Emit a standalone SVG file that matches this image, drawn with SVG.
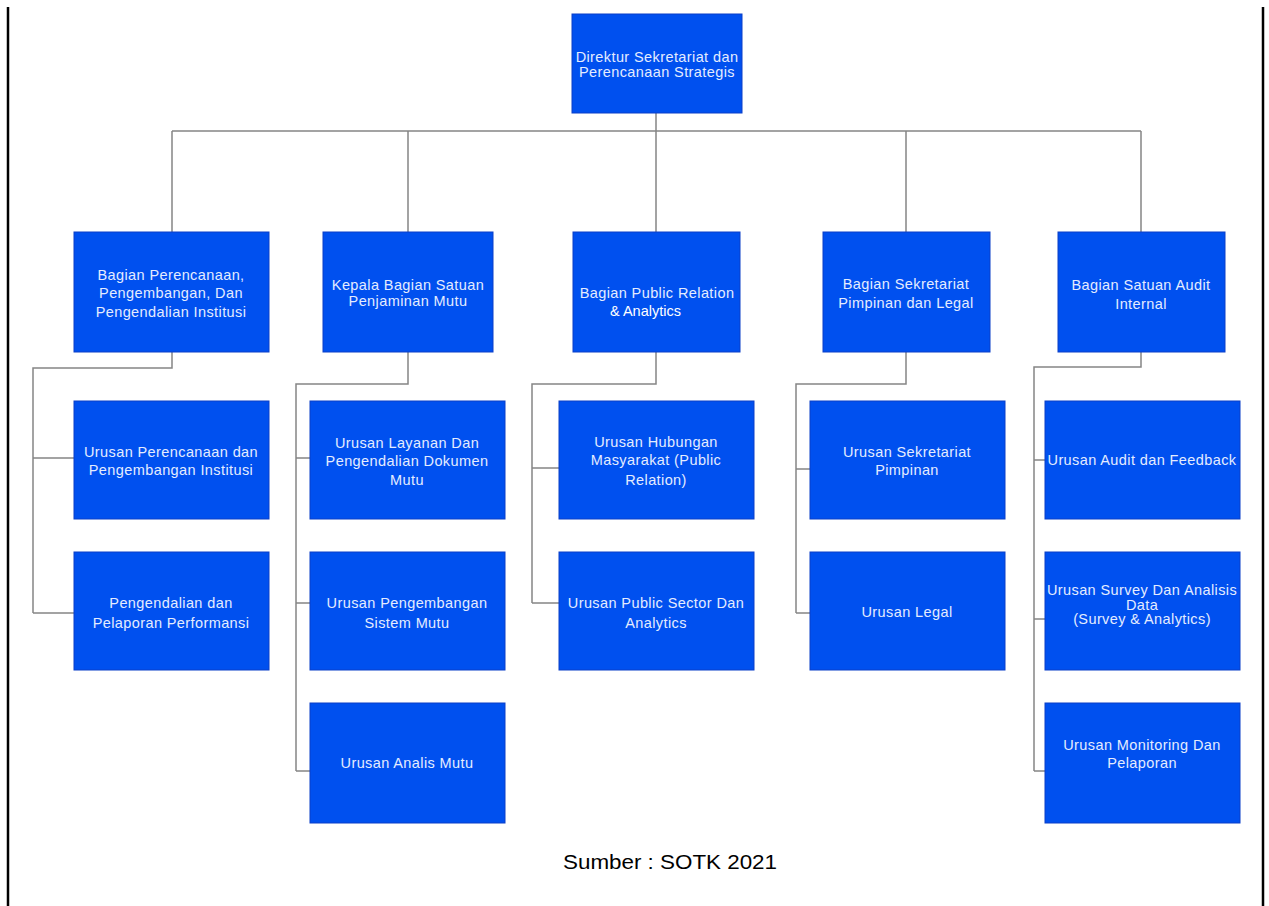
<svg xmlns="http://www.w3.org/2000/svg" width="1269" height="906" viewBox="0 0 1269 906">
  <style>
    .box { fill: #0050ef; stroke: #0b3fc8; stroke-width: 1; }
    .lbl { font-family: "Liberation Sans", Arial, sans-serif; font-size: 14.5px; letter-spacing: 0.4px; fill: #e4ecff; text-anchor: middle; }
    .lbl2 { font-family: "Liberation Sans", Arial, sans-serif; font-size: 14.5px; fill: #ffffff; }
    .wire { fill: none; stroke: #858585; stroke-width: 1.5; }
    .frame { stroke: #000000; stroke-width: 2.5; }
    .src { font-family: "Liberation Sans", Arial, sans-serif; font-size: 21px; fill: #000000; text-anchor: middle; }
  </style>

  <!-- page frame (left and right rules) -->
  <line class="frame" x1="8" y1="7" x2="8" y2="906"/>
  <line class="frame" x1="1263" y1="7" x2="1263" y2="906"/>

  <!-- connectors -->
  <g id="connectors">
    <!-- top level trunk -->
    <path class="wire" d="M656 113 V131 M172 131 H1141 M172 131 V232 M408 131 V232 M656 131 V232 M906 131 V232 M1141 131 V232"/>
    <!-- Bagian Perencanaan -->
    <path class="wire" d="M172 352 V368 H33 V613 M33 458 H74 M33 613 H74"/>
    <!-- Satuan Penjaminan Mutu -->
    <path class="wire" d="M408 352 V384 H296 V771 M296 458 H310 M296 603 H310 M296 771 H310"/>
    <!-- Public Relation -->
    <path class="wire" d="M656 352 V384 H532 V603 M532 468 H559 M532 603 H559"/>
    <!-- Sekretariat Pimpinan -->
    <path class="wire" d="M906 352 V384 H796 V613 M796 469 H810 M796 613 H810"/>
    <!-- Satuan Audit Internal -->
    <path class="wire" d="M1141 352 V367 H1034 V771 M1034 460 H1045 M1034 619 H1045 M1034 771 H1045"/>
  </g>

  <!-- root -->
  <g id="direktur">
    <rect class="box" x="572" y="14" width="170" height="99"/>
    <text class="lbl" x="657" y="62">Direktur Sekretariat dan</text>
    <text class="lbl" x="657" y="77">Perencanaan Strategis</text>
  </g>

  <!-- second level -->
  <g id="bagian-perencanaan">
    <rect class="box" x="74" y="232" width="195" height="120"/>
    <text class="lbl" x="171" y="280">Bagian Perencanaan,</text>
    <text class="lbl" x="171" y="298">Pengembangan, Dan</text>
    <text class="lbl" x="171" y="317">Pengendalian Institusi</text>
  </g>
  <g id="bagian-mutu">
    <rect class="box" x="323" y="232" width="170" height="120"/>
    <text class="lbl" x="408" y="290">Kepala Bagian Satuan</text>
    <text class="lbl" x="408" y="306">Penjaminan Mutu</text>
  </g>
  <g id="bagian-pr">
    <rect class="box" x="573" y="232" width="167" height="120"/>
    <text class="lbl" x="657" y="298">Bagian Public Relation</text>
    <text class="lbl2" x="610" y="316">&amp; Analytics</text>
  </g>
  <g id="bagian-sekretariat">
    <rect class="box" x="823" y="232" width="167" height="120"/>
    <text class="lbl" x="906" y="289">Bagian Sekretariat</text>
    <text class="lbl" x="906" y="308">Pimpinan dan Legal</text>
  </g>
  <g id="bagian-audit">
    <rect class="box" x="1058" y="232" width="167" height="120"/>
    <text class="lbl" x="1141" y="290">Bagian Satuan Audit</text>
    <text class="lbl" x="1141" y="309">Internal</text>
  </g>

  <!-- third level: Bagian Perencanaan -->
  <g id="urusan-perencanaan">
    <rect class="box" x="74" y="401" width="195" height="118"/>
    <text class="lbl" x="171" y="457">Urusan Perencanaan dan</text>
    <text class="lbl" x="171" y="475">Pengembangan Institusi</text>
  </g>
  <g id="pengendalian-pelaporan">
    <rect class="box" x="74" y="552" width="195" height="118"/>
    <text class="lbl" x="171" y="608">Pengendalian dan</text>
    <text class="lbl" x="171" y="628">Pelaporan Performansi</text>
  </g>

  <!-- third level: Penjaminan Mutu -->
  <g id="urusan-layanan">
    <rect class="box" x="310" y="401" width="195" height="118"/>
    <text class="lbl" x="407" y="448">Urusan Layanan Dan</text>
    <text class="lbl" x="407" y="466">Pengendalian Dokumen</text>
    <text class="lbl" x="407" y="485">Mutu</text>
  </g>
  <g id="urusan-sistem-mutu">
    <rect class="box" x="310" y="552" width="195" height="118"/>
    <text class="lbl" x="407" y="608">Urusan Pengembangan</text>
    <text class="lbl" x="407" y="628">Sistem Mutu</text>
  </g>
  <g id="urusan-analis-mutu">
    <rect class="box" x="310" y="703" width="195" height="120"/>
    <text class="lbl" x="407" y="768">Urusan Analis Mutu</text>
  </g>

  <!-- third level: Public Relation -->
  <g id="urusan-humas">
    <rect class="box" x="559" y="401" width="195" height="118"/>
    <text class="lbl" x="656" y="447">Urusan Hubungan</text>
    <text class="lbl" x="656" y="465">Masyarakat (Public</text>
    <text class="lbl" x="656" y="485">Relation)</text>
  </g>
  <g id="urusan-public-sector">
    <rect class="box" x="559" y="552" width="195" height="118"/>
    <text class="lbl" x="656" y="608">Urusan Public Sector Dan</text>
    <text class="lbl" x="656" y="628">Analytics</text>
  </g>

  <!-- third level: Sekretariat Pimpinan -->
  <g id="urusan-sekretariat">
    <rect class="box" x="810" y="401" width="195" height="118"/>
    <text class="lbl" x="907" y="457">Urusan Sekretariat</text>
    <text class="lbl" x="907" y="475">Pimpinan</text>
  </g>
  <g id="urusan-legal">
    <rect class="box" x="810" y="552" width="195" height="118"/>
    <text class="lbl" x="907" y="617">Urusan Legal</text>
  </g>

  <!-- third level: Audit Internal -->
  <g id="urusan-audit">
    <rect class="box" x="1045" y="401" width="195" height="118"/>
    <text class="lbl" x="1142" y="465">Urusan Audit dan Feedback</text>
  </g>
  <g id="urusan-survey">
    <rect class="box" x="1045" y="552" width="195" height="118"/>
    <text class="lbl" x="1142" y="595">Urusan Survey Dan Analisis</text>
    <text class="lbl" x="1142" y="610">Data</text>
    <text class="lbl" x="1142" y="624">(Survey &amp; Analytics)</text>
  </g>
  <g id="urusan-monitoring">
    <rect class="box" x="1045" y="703" width="195" height="120"/>
    <text class="lbl" x="1142" y="750">Urusan Monitoring Dan</text>
    <text class="lbl" x="1142" y="768">Pelaporan</text>
  </g>

  <!-- caption -->
  <text class="src" x="670" y="869" textLength="214" lengthAdjust="spacingAndGlyphs">Sumber : SOTK 2021</text>
</svg>
